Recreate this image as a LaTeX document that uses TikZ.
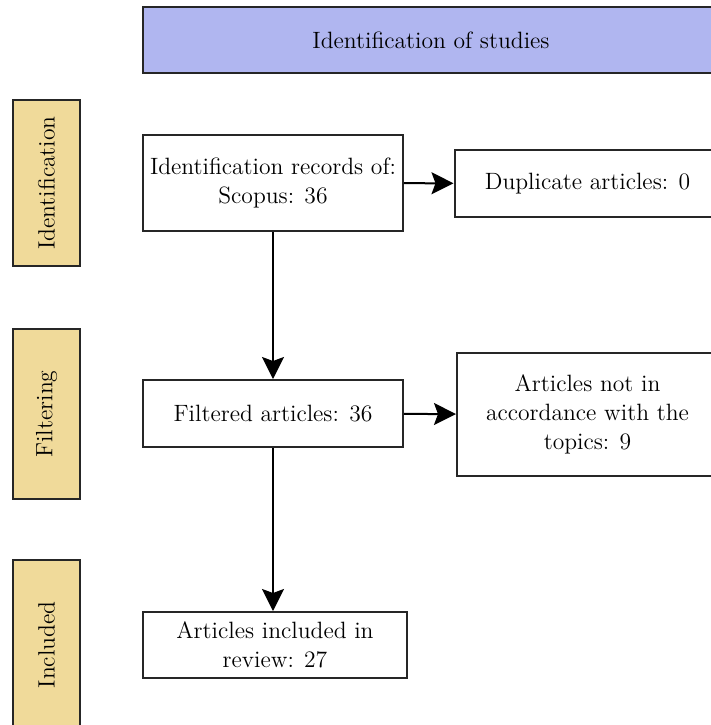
\documentclass[tikz,border=0pt]{standalone}
\usepackage{fontspec}
\usetikzlibrary{arrows.meta,positioning}

\definecolor{bannerblue}{HTML}{B0B6F0}
\definecolor{stagesand}{HTML}{F0DA9A}
\definecolor{edgegray}{HTML}{262626}

\tikzset{
  box/.style={draw=edgegray, line width=1pt, fill=white, align=center,
    inner sep=0pt, font=\fontsize{11.8}{14.5}\selectfont},
  stage/.style={box, fill=stagesand, rotate=90, minimum height=33.5pt},
}

\begin{document}
\begin{tikzpicture}[x=0.5pt,y=-0.5pt,>={Stealth[length=11pt,width=11pt,inset=2pt]},line width=1pt]
    \clip (0,0) rectangle (711,725);

    \node[box, fill=bannerblue, minimum width=288pt, minimum height=33pt] (studies) at (431,40) {Identification of studies};

    \node[stage, minimum width=83pt] (ident) at (46.5,183) {Identification};
    \node[stage, minimum width=85pt] (filt) at (46.5,414) {Filtering};
    \node[stage, minimum width=85pt] (incl) at (46.5,645) {Included};

    \node[box, minimum width=130pt, minimum height=48pt] (records) at (273,183) {Identification records of:\\Scopus: 36};
    \node[box, minimum width=133pt, minimum height=33.5pt] (dup) at (587.5,183.5) {Duplicate articles: 0};
    \node[box, minimum width=130pt, minimum height=33.5pt] (filtered) at (273,413.5) {Filtered articles: 36};
    \node[box, minimum width=130.5pt, minimum height=61.5pt] (notin) at (587.5,414.5) {Articles not in\\accordance with the\\topics: 9};
    \node[box, minimum width=132pt, minimum height=33pt] (included) at (275,645) {Articles included in\\review: 27};

    \path[->] (records) edge (dup);
    \path[->] (records) edge (filtered);
    \path[->] (filtered) edge (notin);
    \path[->] (filtered.south) edge (included.north -| filtered.south);
\end{tikzpicture}
\end{document}
